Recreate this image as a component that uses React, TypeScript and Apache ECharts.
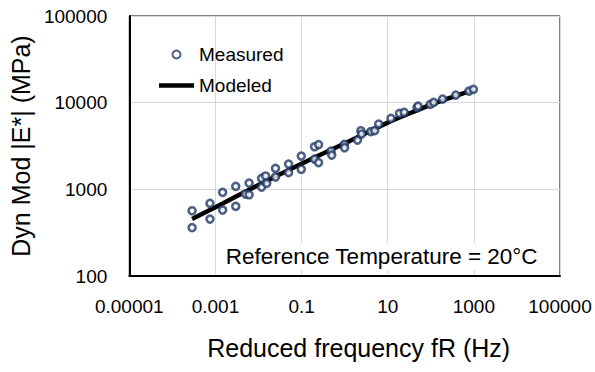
import React, { useEffect, useRef } from "react";
import * as echarts from "echarts";

// Measured data: reduced frequency (Hz) and dynamic modulus (MPa)
const measuredFreq = [
  0.000287, 0.000287, 0.000746, 0.000746, 0.00147, 0.00147, 0.00296, 0.00296,
  0.00497, 0.00604, 0.00604, 0.0118, 0.0118, 0.0146, 0.0155, 0.0248, 0.0248,
  0.0499, 0.0499, 0.0984, 0.0984, 0.2, 0.248, 0.2, 0.248, 0.483, 0.501, 0.984,
  0.995, 1.99, 2.38, 2.47, 4.04, 4.99, 6.17, 11.9, 18.8, 24.1, 48.1, 50.7, 97.3,
  117, 188, 381, 771, 975,
];
const measuredMod = [
  566, 361, 690, 454, 923, 577, 1083, 636, 883, 1182, 866, 1339, 1063, 1424,
  1173, 1746, 1387, 1958, 1562, 2421, 1705, 3099, 3286, 2236, 2037, 2765, 2487,
  3304, 3018, 3703, 4741, 4343, 4642, 4766, 5665, 6590, 7526, 7730, 8737, 9137,
  9557, 10081, 11004, 12237, 13606, 14237,
];

// Model curve
const modelFreq = [0.000287, 0.001, 0.01, 0.1, 0.5, 1, 3.16, 10, 31.6, 100, 316, 1000];
const modelMod = [454, 622, 1122, 1972, 2884, 3388, 4467, 5888, 7500, 9441, 11600, 14125];

const seriesNames = ["Measured", "Modeled"];
const xAxisTitle = "Reduced frequency fR (Hz)";
const yAxisTitle = "Dyn Mod |E*| (MPa)";
const annotation = "Reference Temperature = 20°C";

const FONT = "'Liberation Sans', Arial, sans-serif";
const NAVY = "#1F3864";

function fmtPow(v: number): string {
  const e = Math.round(Math.log10(v));
  return e < 0 ? "0." + "0".repeat(-e - 1) + "1" : "1" + "0".repeat(e);
}

export default function App() {
  const ref = useRef<HTMLDivElement>(null);
  useEffect(() => {
    if (!ref.current) return;
    const chart = echarts.init(ref.current, undefined, { renderer: "svg" });
    chart.setOption({
      animation: false,
      backgroundColor: "#fff",
      grid: {
        left: 126,
        right: 35,
        top: 16,
        bottom: 96,
        show: true,
        borderColor: "#000",
        borderWidth: 1,
      },
      legend: {
        orient: "vertical",
        left: 154,
        top: 40,
        itemWidth: 35,
        itemHeight: 8,
        itemGap: 12,
        textStyle: { fontFamily: FONT, fontSize: 19, color: "#000" },
        data: [
          { name: seriesNames[0] },
          {
            name: seriesNames[1],
            icon: "path://M0,0L35,0L35,4.5L0,4.5Z",
            itemStyle: { color: "#000" },
          },
        ],
      },
      xAxis: {
        type: "log",
        logBase: 10,
        min: 0.00001,
        max: 100000,
        interval: 2,
        name: xAxisTitle,
        nameLocation: "middle",
        nameGap: 59,
        nameTextStyle: {
          fontFamily: FONT,
          fontSize: 25,
          color: "#000",
          padding: [0, 0, 0, 28],
        },
        axisLine: { show: true, lineStyle: { color: "#000", width: 2 } },
        axisTick: { show: false },
        minorTick: { show: false },
        axisLabel: {
          fontFamily: FONT,
          fontSize: 19,
          color: "#000",
          margin: 21,
          formatter: (v: number) => fmtPow(v),
        },
        splitLine: { show: true, lineStyle: { color: "#d9d9d9", width: 1 } },
      },
      yAxis: {
        type: "log",
        logBase: 10,
        min: 100,
        max: 100000,
        interval: 1,
        name: yAxisTitle,
        nameLocation: "middle",
        nameGap: 94,
        nameTextStyle: { fontFamily: FONT, fontSize: 25, color: "#000" },
        axisLine: { show: true, lineStyle: { color: "#000", width: 2 } },
        axisTick: { show: false },
        minorTick: { show: false },
        axisLabel: {
          fontFamily: FONT,
          fontSize: 19,
          color: "#000",
          margin: 22,
          formatter: (v: number) => fmtPow(v),
        },
        splitLine: { show: true, lineStyle: { color: "#d9d9d9", width: 1 } },
      },
      graphic: [
        {
          type: "text",
          right: 55,
          top: 243,
          z: 10,
          style: {
            text: annotation,
            fontFamily: FONT,
            fontSize: 22.5,
            fill: "#000",
            backgroundColor: "#fff",
            padding: [2, 2, 2, 2],
          },
        },
      ],
      series: [
        {
          name: seriesNames[0],
          type: "scatter",
          data: measuredFreq.map((f, i) => [f, measuredMod[i]]),
          symbol: "circle",
          symbolSize: 7,
          itemStyle: { color: "#fff", borderColor: NAVY, borderWidth: 2.6 },
          emphasis: { disabled: true },
          z: 3,
        },
        {
          name: seriesNames[1],
          type: "line",
          data: modelFreq.map((f, i) => [f, modelMod[i]]),
          showSymbol: false,
          symbol: "none",
          smooth: 0.3,
          lineStyle: { color: "#000", width: 4.5 },
          itemStyle: { color: "#000" },
          emphasis: { disabled: true },
          z: 2,
        },
      ],
    });
    return () => chart.dispose();
  }, []);
  return (
    <div
      ref={ref}
      style={{ position: "fixed", left: 0, top: 0, width: 595, height: 372 }}
    />
  );
}
